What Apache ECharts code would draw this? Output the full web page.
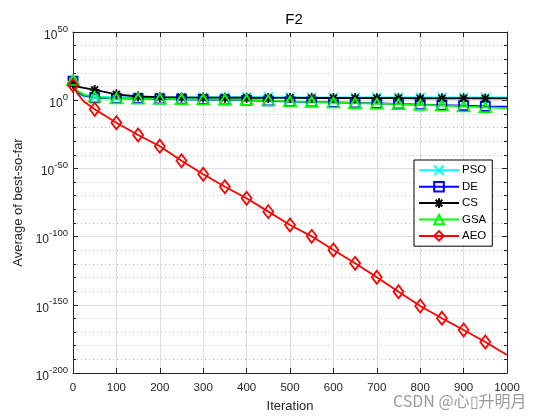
<!DOCTYPE html>
<html>
<head>
<meta charset="utf-8">
<script src="https://cdn.jsdelivr.net/npm/echarts@6/dist/echarts.min.js"></script>
<style>html,body{margin:0;padding:0;background:#fff;}#c{width:560px;height:420px;}</style>
</head>
<body>
<div id="c"></div>
<script>
// Iterations at which values were read (markers every 50, 0..950)
var iterations = [0, 10, 25, 50, 100, 150, 200, 250, 300, 350, 400, 450, 500, 550, 600, 650, 700, 750, 800, 850, 900, 950, 1000];
// log10 of "Average of best-so-far"
var psoLog = [13.5, 5, 2.8, 2.4, 2.3, 2.3, 2.2, 2.2, 2.2, 2.2, 2.2, 2.2, 2.2, 2.1, 2.1, 2.1, 2.1, 2.1, 2.1, 2.1, 2.1, 2.0, 2.0];
var deLog  = [14.0, 6, 3.5, 1.8, 1.3, 1.1, 0.9, 0.7, 0.5, 0.2, -0.1, -0.5, -1.0, -1.3, -1.6, -2.0, -2.4, -2.8, -3.2, -3.6, -4.0, -4.5, -4.8];
var csLog  = [12.0, 10, 9, 7.5, 4.3, 2.7, 2.3, 2.0, 1.9, 1.8, 1.8, 1.7, 1.7, 1.6, 1.6, 1.5, 1.5, 1.5, 1.4, 1.4, 1.4, 1.3, 1.3];
var gsaLog = [14.8, 7, 4, 2.5, 1.3, 1.1, 1.0, 0.8, 0.6, 0.4, 0.2, -0.2, -0.8, -1.2, -1.7, -2.1, -2.5, -2.9, -3.4, -3.9, -4.6, -5.3, -5.8];
var aeoLog = [11.0, 5, -1, -6.7, -16.5, -25.5, -33.8, -44.4, -54.3, -63.4, -71.9, -81.7, -91.5, -99.8, -109.8, -119.6, -129.8, -140.4, -150.9, -159.9, -168.5, -177.3, -186.8];
var seriesNames = ['PSO', 'DE', 'CS', 'GSA', 'AEO'];
var xTicks = [0, 100, 200, 300, 400, 500, 600, 700, 800, 900, 1000];
var yTickExponents = [-200, -150, -100, -50, 0, 50];

var FONT = '"Liberation Sans", Arial, Helvetica, sans-serif';
var TXT = '#262626';

var symX = 'path://M0,0L10,10M10,0L0,10';
var symStar = 'path://M5,0L5,10M0,5L10,5M1.5,1.5L8.5,8.5M8.5,1.5L1.5,8.5';

function build(vals, sym) {
  return iterations.map(function (it, i) {
    var show = (it % 50 === 0) && it < 1000;
    return { value: [it, vals[i]], symbol: show ? sym : 'none' };
  });
}

var defs = [
  { name: 'PSO', vals: psoLog, color: '#00ffff', sym: symX, size: 9 },
  { name: 'DE',  vals: deLog,  color: '#0000ff', sym: 'rect', size: 9 },
  { name: 'CS',  vals: csLog,  color: '#000000', sym: symStar, size: 10 },
  { name: 'GSA', vals: gsaLog, color: '#00ff00', sym: 'triangle', size: [12, 10] },
  { name: 'AEO', vals: aeoLog, color: '#ff0000', sym: 'diamond', size: [10, 13] }
];

var series = defs.map(function (d) {
  return {
    name: d.name,
    type: 'line',
    xAxisIndex: 0, yAxisIndex: 0,
    data: build(d.vals, d.sym),
    symbol: d.sym,
    symbolSize: d.size,
    showAllSymbol: true,
    animation: false,
    lineStyle: { color: d.color, width: 1.8 },
    itemStyle: { color: 'none', borderColor: d.color, borderWidth: 1.8 }
  };
});

var chart = echarts.init(document.getElementById('c'), null, { renderer: 'canvas' });
chart.setOption({
  backgroundColor: '#ffffff',
  animation: false,
  title: {
    text: 'F2', left: 289, top: 7, textAlign: 'center',
    textStyle: { fontFamily: FONT, fontSize: 15, fontWeight: 'normal', color: '#000' }
  },
  legend: {
    data: seriesNames,
    orient: 'vertical', left: 414, top: 160,
    itemWidth: 40, itemHeight: 12, itemGap: 1.8,
    padding: [3, 6, 3, 4],
    backgroundColor: '#fff', borderColor: '#000', borderWidth: 1,
    textStyle: { fontFamily: FONT, fontSize: 11.5, lineHeight: 12, color: '#000', padding: [0, 0, 0, -2] }
  },
  grid: { left: 73, right: 53, top: 32, bottom: 47, show: false },
  xAxis: [{
    type: 'value', min: 0, max: 1000, interval: 100, position: 'bottom',
    name: 'Iteration', nameLocation: 'middle', nameGap: 27,
    nameTextStyle: { fontFamily: FONT, fontSize: 13, color: TXT },
    axisLine: { show: true, onZero: false, lineStyle: { color: TXT, width: 1 } },
    axisTick: { show: true, inside: true, length: 5, lineStyle: { color: TXT } },
    axisLabel: { fontFamily: FONT, fontSize: 11.5, color: TXT, margin: 9, formatter: function (v) { return String(v); } },
    splitLine: { show: true, lineStyle: { color: '#dedede', width: 1 } }
  }, {
    type: 'value', min: 0, max: 1000, interval: 100, position: 'top',
    axisLine: { show: true, onZero: false, lineStyle: { color: TXT, width: 1 } },
    axisTick: { show: true, inside: true, length: 5, lineStyle: { color: TXT } },
    axisLabel: { show: false }, splitLine: { show: false }
  }],
  yAxis: [{
    type: 'value', min: -200, max: 50, interval: 50, position: 'left',
    name: 'Average of best-so-far', nameLocation: 'middle', nameGap: 48,
    nameTextStyle: { fontFamily: FONT, fontSize: 13, color: TXT },
    axisLine: { show: true, onZero: false, lineStyle: { color: TXT, width: 1 } },
    axisTick: { show: true, inside: true, length: 5, lineStyle: { color: TXT } },
    minorTick: { show: true, splitNumber: 5, length: 3, lineStyle: { color: TXT } },
    axisLabel: {
      margin: 5,
      formatter: function (v) { return '{b|10}{s|' + v + '}'; },
      rich: {
        b: { fontFamily: FONT, fontSize: 12, color: TXT, padding: [7, 0, 0, 0] },
        s: { fontFamily: FONT, fontSize: 9.5, color: TXT, padding: [0, 0, 6, 0] }
      }
    },
    splitLine: { show: true, lineStyle: { color: '#dedede', width: 1 } },
    minorSplitLine: { show: true, lineStyle: { color: '#b8b8b8', width: 1, type: [1, 3] } }
  }, {
    type: 'value', min: -200, max: 50, interval: 50, position: 'right',
    axisLine: { show: true, onZero: false, lineStyle: { color: TXT, width: 1 } },
    axisTick: { show: true, inside: true, length: 5, lineStyle: { color: TXT } },
    minorTick: { show: true, splitNumber: 5, length: 3, lineStyle: { color: TXT } },
    axisLabel: { show: false }, splitLine: { show: false }
  }],
  graphic: [{
    type: 'text', left: 393, top: 393,
    style: { text: 'CSDN @心\u25AF升明月', font: '16px "Noto Sans CJK SC", ' + FONT, fill: '#9a9a9a' }
  }],
  series: series
});
</script>
</body>
</html>
